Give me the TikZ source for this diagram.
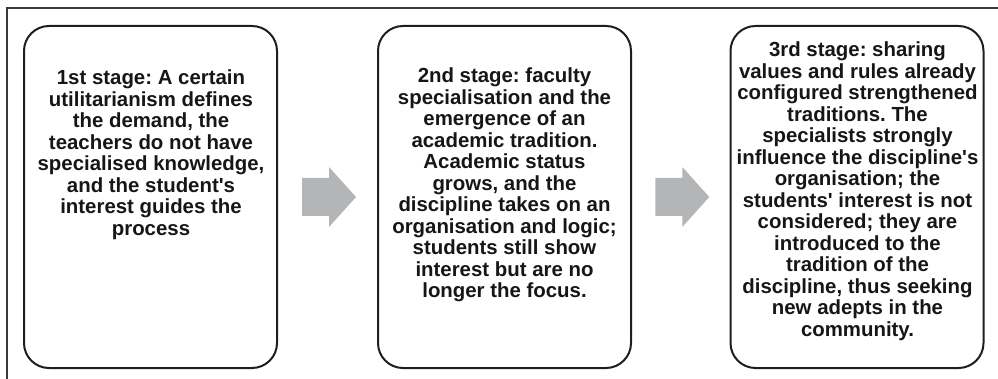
\documentclass[tikz,border=0pt]{standalone}
\usepackage{fontspec}
\setmainfont{Liberation Sans}
\usetikzlibrary{calc}
\definecolor{framegray}{HTML}{3A3A3A}
\definecolor{boxline}{HTML}{1E1E1E}
\definecolor{arrowgray}{HTML}{B4B5B7}
\definecolor{textcol}{HTML}{161616}
\tikzset{
  stagebox/.style={draw=boxline, line width=2pt, rounded corners=25pt,
    minimum width=253pt, minimum height=342pt, inner sep=0pt},
  stagetext/.style={anchor=north, align=center, inner sep=0pt, text=textcol,
    font=\fontsize{20.4}{21.5}\selectfont\bfseries\frenchspacing},
  stagearrow/.pic={
    \fill[arrowgray] (-27,-19) -- (0,-19) -- (0,-30) -- (27,0) -- (0,30)
      -- (0,19) -- (-27,19) -- cycle;
  }
}
\newcommand{\apo}{\textquotesingle}
\begin{document}
\frenchspacing
\begin{tikzpicture}[x=1pt,y=-1pt]
  \useasboundingbox (0,0) rectangle (998,379);
  % outer frame (only the top and left edges fall inside the page)
  \draw[framegray, line width=1.5pt] (7,379) -- (7,8) -- (998,8);

  % the three stage boxes
  \node[stagebox] (b1) at (150.5,197) {};
  \node[stagebox] (b2) at (504.5,197) {};
  \node[stagebox] (b3) at (857,197) {};

  % stage texts
  \node[stagetext] (t1) at (151,70) {1st stage: A certain\\
    utilitarianism defines\\ the demand, the\\ teachers do not have\\
    specialised knowledge,\\ and the student\apo s\\
    interest guides the\\ process};
  \node[stagetext] (t2) at (504.5,68) {2nd stage: faculty\\
    specialisation and the\\ emergence of an\\ academic tradition.\\
    Academic status\\ grows, and the\\ discipline takes on an\\
    organisation and logic;\\ students still show\\
    interest but are no\\ longer the focus.};
  \node[stagetext] (t3) at (857.5,42) {3rd stage: sharing\\
    values and rules already\\ configured strengthened\\
    traditions. The\\ specialists strongly\\
    influence the discipline\apo s\\ organisation; the\\
    students\apo{} interest is not\\ considered; they are\\
    introduced to the\\ tradition of the\\
    discipline, thus seeking\\ new adepts in the\\ community.};

  % block arrows between the stages
  \coordinate (a1) at ($($(b1.east)!0.5!(b2.west)$)+(1.5,0)$);
  \coordinate (a2) at ($($(b2.east)!0.5!(b3.west)$)+(1.5,0)$);
  \pic at (a1) {stagearrow};
  \pic at (a2) {stagearrow};
\end{tikzpicture}
\end{document}
